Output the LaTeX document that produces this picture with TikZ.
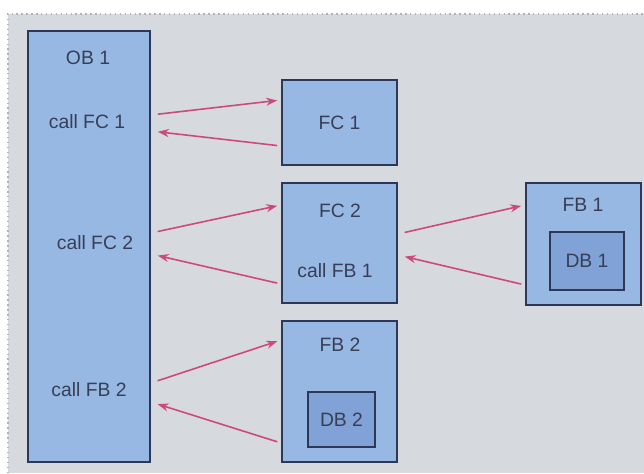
\documentclass[tikz,border=0pt]{standalone}
\usepackage{fontspec}
\setmainfont{Liberation Sans}
\usepackage{xcolor}
\usepackage{tikz}
\usetikzlibrary{arrows.meta,positioning,calc}
\definecolor{pback}{RGB}{214,217,221}
\definecolor{pedge}{RGB}{175,178,184}
\definecolor{pblock}{RGB}{152,184,228}
\definecolor{pdb}{RGB}{128,162,214}
\definecolor{pline}{RGB}{45,55,88}
\definecolor{ptext}{RGB}{55,62,85}
\definecolor{pcall}{RGB}{206,72,122}
\tikzset{
  block/.style={rectangle,draw=pline,line width=1pt,fill=pblock,
                font=\fontsize{11}{13}\selectfont,text=ptext,inner sep=0pt},
  dbbox/.style={rectangle,draw=pline,line width=1pt,fill=pdb,
                font=\fontsize{11}{13}\selectfont,text=ptext,inner sep=0pt},
  txt/.style={font=\fontsize{11}{13}\selectfont,text=ptext,inner sep=1pt},
  call/.style={-{Stealth[length=2.2mm,width=1.6mm]},pcall,line width=0.9pt,
               shorten <=1.4mm,shorten >=0.8mm},
  ret/.style={-{Stealth[length=2.2mm,width=1.6mm]},pcall,line width=0.9pt,
              shorten <=0.8mm,shorten >=1.4mm},
}

\begin{document}
\begin{tikzpicture}
  \useasboundingbox (0,0) rectangle (12.88,9.46);
  % grey panel
  \fill[pback] (0.16,0) rectangle (12.88,9.18);
  \draw[pedge,dotted,line width=0.8pt] (0.16,0) -- (0.16,9.18) -- (12.88,9.18);
  % organisation block
  \node[block,minimum width=2.44cm,minimum height=8.62cm] (ob1) at (1.78,4.53) {};
  \node[txt] (ob1t) at (1.76,8.30) {OB 1};
  \node[txt] (cfc1) at (1.74,7.02) {call FC 1};
  \node[txt] (cfc2) at (1.90,4.60) {call FC 2};
  \node[txt] (cfb2) at (1.78,1.66) {call FB 2};
  % functions
  \node[block,minimum width=2.30cm,minimum height=1.70cm] (fc1) at (6.79,7.01) {FC 1};
  \node[block,minimum width=2.30cm,minimum height=2.40cm] (fc2) at (6.79,4.60) {};
  \node[txt] (fc2t) at (6.80,5.24) {FC 2};
  \node[txt] (cfb1) at (6.70,4.04) {call FB 1};
  % function blocks with instance data
  \node[block,minimum width=2.30cm,minimum height=2.82cm] (fb2) at (6.79,1.63) {};
  \node[txt] (fb2t) at (6.80,2.56) {FB 2};
  \node[dbbox,minimum width=1.34cm,minimum height=1.10cm] (db2) at (6.83,1.07) {DB 2};
  \node[block,minimum width=2.30cm,minimum height=2.44cm] (fb1) at (11.67,4.58) {};
  \node[txt] (fb1t) at (11.66,5.36) {FB 1};
  \node[dbbox,minimum width=1.48cm,minimum height=1.16cm] (db1) at (11.74,4.24) {DB 1};
  % calls and returns
  \draw[call] ([yshift=0.14cm]ob1.east |- cfc1) -- ([yshift=0.45cm]fc1.west);
  \draw[ret]  ([yshift=-0.47cm]fc1.west) -- ([yshift=-0.18cm]ob1.east |- cfc1);
  \draw[call] ([yshift=0.20cm]ob1.east |- cfc2) -- ([yshift=0.12cm]fc2.west |- fc2t);
  \draw[ret]  ([yshift=-0.26cm]fc2.west |- cfb1) -- ([yshift=-0.22cm]ob1.east |- cfc2);
  \draw[call] ([yshift=0.18cm]fc2.east) -- (fb1.west |- fb1t);
  \draw[ret]  ([yshift=-0.82cm]fb1.west) -- ([yshift=0.32cm]fc2.east |- cfb1);
  \draw[call] ([yshift=0.14cm]ob1.east |- cfb2) -- ([yshift=0.10cm]fb2.west |- fb2t);
  \draw[ret]  ([yshift=-1.03cm]fb2.west) -- ([yshift=-0.24cm]ob1.east |- cfb2);
\end{tikzpicture}
\end{document}
